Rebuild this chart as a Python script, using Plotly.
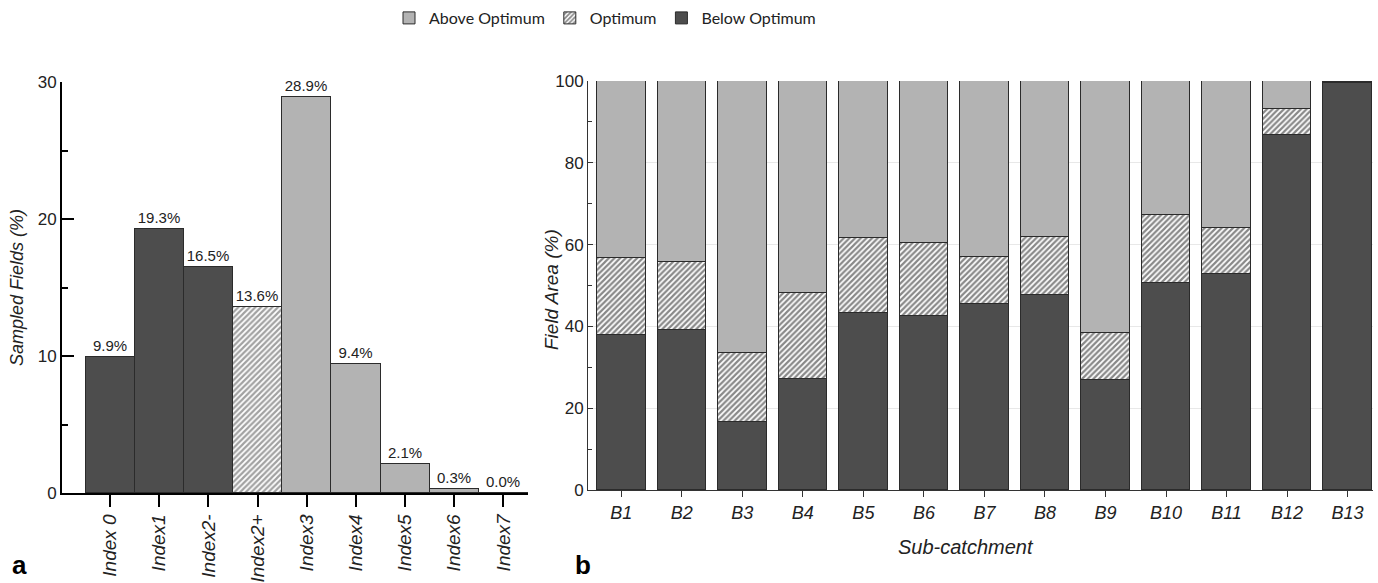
import plotly.graph_objects as go

# ---- Panel a data ----
index_labels = ["Index 0", "Index1", "Index2-", "Index2+", "Index3", "Index4", "Index5", "Index6", "Index7"]
sampled_pct = [9.9, 19.3, 16.5, 13.6, 28.9, 9.4, 2.1, 0.3, 0.0]
index_class = ["Below", "Below", "Below", "Optimum", "Above", "Above", "Above", "Above", "Above"]

# ---- Panel b data ----
subcatchments = ["B1", "B2", "B3", "B4", "B5", "B6", "B7", "B8", "B9", "B10", "B11", "B12", "B13"]
below_opt = [38.0, 39.1, 16.6, 27.1, 43.2, 42.5, 45.5, 47.7, 26.9, 50.7, 52.8, 86.8, 99.4]
optimum = [18.8, 16.6, 16.8, 21.0, 18.3, 18.0, 11.5, 14.1, 11.4, 16.5, 11.3, 6.3, 0.4]
above_opt = [43.2, 44.3, 66.6, 51.9, 38.5, 39.5, 43.0, 38.2, 61.7, 32.8, 35.9, 6.9, 0.2]

DARK = "#4d4d4d"
LIGHT = "#b3b3b3"
EDGE = "#2b2b2b"
HATCH = "#111111"

W, H = 1378, 583
class_color = {"Below": DARK, "Optimum": "white", "Above": LIGHT}
class_shape = {"Below": "", "Optimum": "/", "Above": ""}
hatch = dict(fgcolor=HATCH, size=4, solidity=0.55)

fig = go.Figure()

fig.add_trace(go.Bar(
    x=list(range(len(index_labels))), y=sampled_pct, width=1.0,
    marker=dict(color=[class_color[c] for c in index_class],
                line=dict(color=EDGE, width=1),
                pattern=dict(shape=[class_shape[c] for c in index_class], **hatch)),
    texttemplate="%{y:.1f}%", textposition="outside", cliponaxis=False,
    textfont=dict(family="Liberation Sans, Arial", size=15, color="#222"),
    showlegend=False, xaxis="x", yaxis="y", hoverinfo="skip"))

fig.add_trace(go.Bar(
    x=subcatchments, y=below_opt, width=0.8, name="Below Optimum",
    marker=dict(color=DARK, line=dict(color=EDGE, width=1)),
    legendrank=3, xaxis="x2", yaxis="y2"))
fig.add_trace(go.Bar(
    x=subcatchments, y=optimum, width=0.8, name="Optimum",
    marker=dict(color="white", line=dict(color=EDGE, width=1),
                pattern=dict(shape="/", **hatch)),
    legendrank=2, xaxis="x2", yaxis="y2"))
fig.add_trace(go.Bar(
    x=subcatchments, y=above_opt, width=0.8, name="Above Optimum",
    marker=dict(color=LIGHT, line=dict(color=EDGE, width=1)),
    legendrank=1, xaxis="x2", yaxis="y2"))

tickfont = dict(family="Liberation Sans, Arial", size=17, color="#222")
itfont_a = dict(family="Liberation Sans, Arial", size=19, color="#222", style="italic")
itfont_b = dict(family="Liberation Sans, Arial", size=18, color="#222", style="italic")

fig.update_layout(
    width=W, height=H, autosize=False,
    margin=dict(l=0, r=0, t=0, b=0, autoexpand=False),
    paper_bgcolor="white", plot_bgcolor="white",
    barmode="stack",
    xaxis=dict(domain=[62 / W, 528 / W], range=[-0.98, 8.5], automargin=False,
               tickmode="array", tickvals=list(range(len(index_labels))), ticktext=index_labels,
               tickangle=-90, ticks="outside", ticklen=12, tickwidth=1.5, tickcolor="black",
               showline=True, linecolor="black", linewidth=1.5,
               showgrid=False, zeroline=False, tickfont=itfont_a),
    yaxis=dict(domain=[(H - 493) / H, (H - 82) / H], range=[0, 30], automargin=False,
               tickmode="array", tickvals=[0, 10, 20, 30],
               ticks="inside", ticklen=12, tickwidth=1.5, tickcolor="black",
               minor=dict(ticks="inside", ticklen=6, tickwidth=1.5, tickcolor="black",
                          tickvals=[5, 15, 25], showgrid=False),
               showline=True, linecolor="black", linewidth=1.8,
               showgrid=False, zeroline=False, tickfont=tickfont),
    xaxis2=dict(domain=[588 / W, 1373 / W], type="category", range=[-0.55, 12.42], automargin=False,
                ticks="outside", ticklen=6, tickwidth=1, tickcolor="#333",
                showline=True, linecolor="#333", linewidth=1,
                showgrid=False, zeroline=False, tickfont=itfont_b, anchor="y2"),
    yaxis2=dict(domain=[(H - 490) / H, (H - 81) / H], range=[0, 100], automargin=False,
                tickmode="array", tickvals=[0, 20, 40, 60, 80, 100],
                ticks="inside", ticklen=5, tickwidth=1, tickcolor="#333",
                minor=dict(ticks="inside", ticklen=4, tickwidth=1, tickcolor="#333",
                           tickvals=[10, 30, 50, 70, 90], showgrid=False),
                showline=True, linecolor="#333", linewidth=1,
                showgrid=True, gridcolor="#e8e8e8", gridwidth=1,
                zeroline=False, tickfont=tickfont, anchor="x2"),
    legend=dict(orientation="h", xref="container", yref="container",
                x=605 / W, xanchor="center", y=1 - 18 / H, yanchor="middle",
                traceorder="normal",
                font=dict(family="Lato, Open Sans", size=16, color="#222"),
                bgcolor="rgba(0,0,0,0)"),
    bargap=0,
)

def title_font(sz):
    return dict(family="Liberation Sans, Arial", size=sz, color="#222", style="italic")

fig.add_annotation(text="Sampled Fields (%)", x=17 / W, y=1 - 288 / H, xref="paper", yref="paper",
                   textangle=-90, showarrow=False, font=title_font(18), xanchor="center", yanchor="middle")
fig.add_annotation(text="Field Area (%)", x=551 / W, y=1 - 290 / H, xref="paper", yref="paper",
                   textangle=-90, showarrow=False, font=title_font(19), xanchor="center", yanchor="middle")
fig.add_annotation(text="Sub-catchment", x=966 / W, y=1 - 547 / H, xref="paper", yref="paper",
                   showarrow=False, font=title_font(20), xanchor="center", yanchor="middle")
fig.add_annotation(text="<b>a</b>", x=19 / W, y=1 - 565 / H, xref="paper", yref="paper",
                   showarrow=False, font=dict(family="Liberation Sans, Arial", size=26, color="black"),
                   xanchor="center", yanchor="middle")
fig.add_annotation(text="<b>b</b>", x=583 / W, y=1 - 565 / H, xref="paper", yref="paper",
                   showarrow=False, font=dict(family="Liberation Sans, Arial", size=26, color="black"),
                   xanchor="center", yanchor="middle")

fig.write_html("out.html", config={"displayModeBar": False},
               post_script="document.body.style.margin='0';document.body.style.overflow='hidden';")
